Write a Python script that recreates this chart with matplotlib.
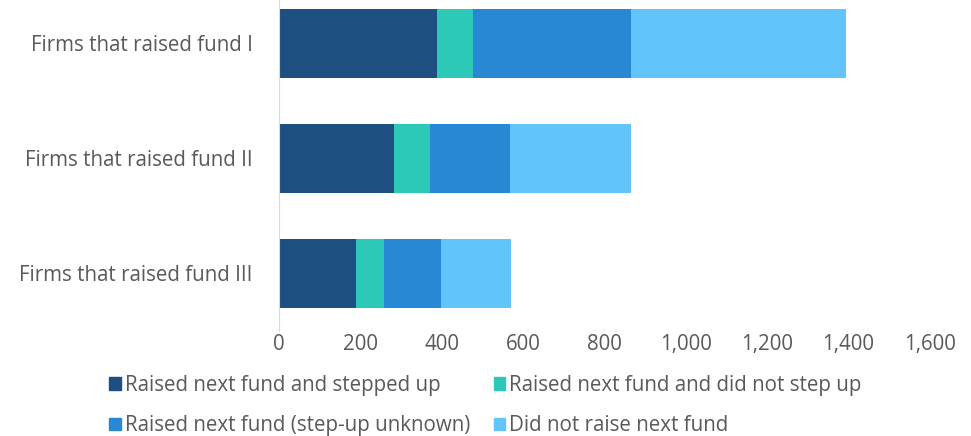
import matplotlib.pyplot as plt
from matplotlib.patches import Patch
from matplotlib.ticker import FuncFormatter

plt.rcParams['font.family'] = ['Open Sans', 'DejaVu Sans']

categories = ["Firms that raised fund III", "Firms that raised fund II", "Firms that raised fund I"]
stepped_up = [189, 282, 389]
no_step_up = [69, 89, 87]
unknown = [140, 196, 390]
not_raised = [171, 297, 528]

series = [stepped_up, no_step_up, unknown, not_raised]
labels = ["Raised next fund and stepped up", "Raised next fund and did not step up",
          "Raised next fund (step-up unknown)", "Did not raise next fund"]
colors = ["#1D4F80", "#2DC9B8", "#2988D3", "#62C4FA"]

fig = plt.figure(figsize=(9.71, 4.36), dpi=100)
ax = fig.add_axes([279/971, 1 - 331/436, 651/971, 331/436])

ypos = list(range(len(categories)))
left = [0] * len(categories)
for vals, c in zip(series, colors):
    ax.barh(ypos, vals, left=left, height=0.6, color=c)
    left = [l + v for l, v in zip(left, vals)]

ax.set_xlim(0, 1600)
ax.set_ylim(-0.5, 2.378)
ax.set_yticks(ypos)
ax.set_yticklabels(categories)
ax.set_xticks(range(0, 1601, 200))
ax.xaxis.set_major_formatter(FuncFormatter(lambda v, p: f"{int(v):,}"))
ax.tick_params(length=0, labelsize=14.8, colors="#595959")
ax.tick_params(axis="y", pad=19)
ax.tick_params(axis="x", pad=2)
for s in ["top", "right", "bottom"]:
    ax.spines[s].set_visible(False)
ax.spines["left"].set_color("#D9D9D9")

# legend fills column-wise, so reorder to get row-wise layout
order = [0, 2, 1, 3]
handles = [Patch(color=colors[i]) for i in order]
fig.legend(handles, [labels[i] for i in order], loc="center", bbox_to_anchor=(0.5, 0.07), ncol=2,
           frameon=False, fontsize=14.8, labelcolor="#595959",
           handlelength=0.55, handleheight=0.55, handletextpad=0.2,
           columnspacing=1.15, labelspacing=0.95, borderpad=0)

fig.savefig("out.png", dpi=100)
